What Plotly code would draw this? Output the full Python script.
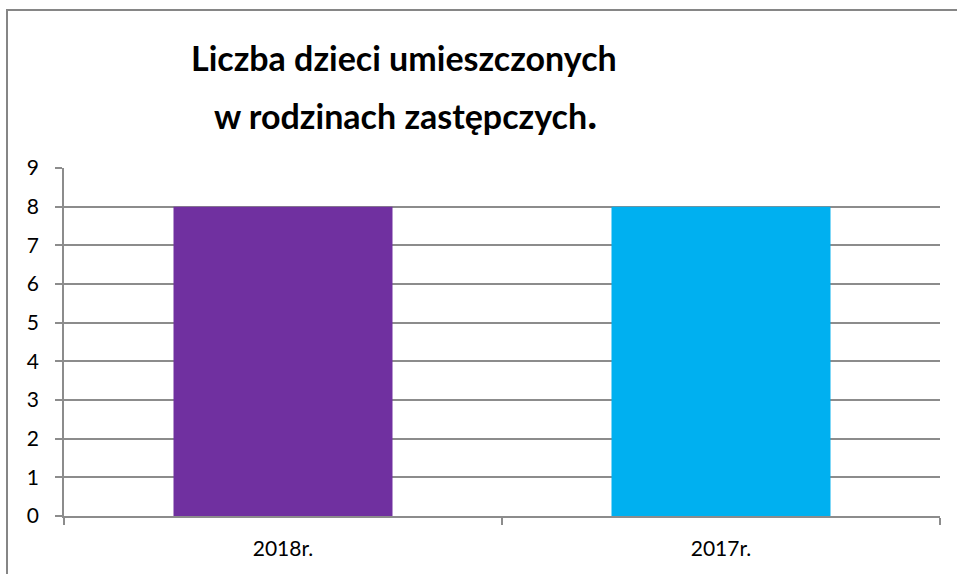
import plotly.graph_objects as go

categories = ["2018r.", "2017r."]
values = [8, 8]
colors = ["#7030A0", "#00B0F0"]
y_ticks = list(range(0, 10))

FONT = "Lato"

fig = go.Figure(go.Bar(x=categories, y=values, marker=dict(color=colors, line=dict(width=0)), width=0.5))

fig.update_layout(
    width=957, height=574,
    margin=dict(l=64, r=17, t=168, b=58),
    paper_bgcolor="white", plot_bgcolor="white",
    font=dict(family=FONT, color="black"),
    showlegend=False,
    xaxis=dict(
        showgrid=False, showline=True, linecolor="#8c8c8c", linewidth=1.5,
        ticks="outside", tickson="boundaries", ticklen=7, tickcolor="#8c8c8c", tickwidth=1.5,
        tickfont=dict(size=21, family=FONT), ticklabelstandoff=13,
    ),
    yaxis=dict(
        range=[0, 9], tickvals=y_ticks, showgrid=True, gridcolor="#8c8c8c", gridwidth=1.5,
        showline=True, linecolor="#8c8c8c", linewidth=1.5,
        ticks="outside", ticklen=7, tickcolor="#8c8c8c", tickwidth=1.5,
        tickfont=dict(size=21, family=FONT), zeroline=False, ticklabelstandoff=12,
    ),
    annotations=[
        dict(text="<b>Liczba dzieci umieszczonych</b>", xref="paper", yref="paper",
             x=(404 - 64) / 876, y=(516 - 57) / 348, xanchor="center", yanchor="middle",
             showarrow=False, font=dict(size=34, family=FONT)),
        dict(text="<b>w rodzinach zastępczych<span style='font-size:42px'>.</span></b>", xref="paper", yref="paper",
             x=(405 - 64) / 876, y=(516 - 113) / 348, xanchor="center", yanchor="middle",
             showarrow=False, font=dict(size=34, family=FONT)),
    ],
    shapes=[
        dict(type="rect", xref="paper", yref="paper",
             x0=(7 - 64) / 876, x1=1.2, y0=-0.3, y1=(516 - 10) / 348,
             line=dict(color="#868686", width=2), fillcolor="rgba(0,0,0,0)", layer="below"),
    ],
)

fig.write_html("out.html", config={"displayModeBar": False},
               post_script="document.body.style.margin='0';document.body.style.overflow='hidden';")
